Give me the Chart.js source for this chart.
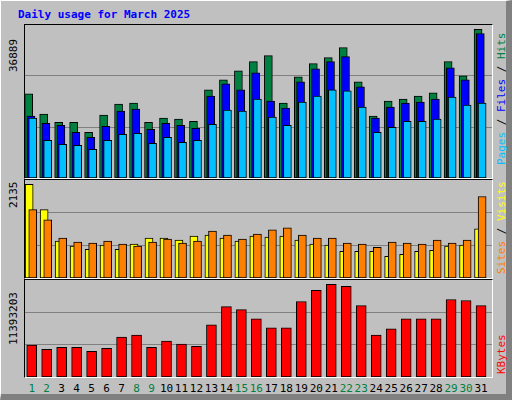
<!DOCTYPE html>
<html><head><meta charset="utf-8">
<script src="https://cdn.jsdelivr.net/npm/chart.js@4"></script>
<style>
body{margin:0;width:512px;height:400px;background:#c0c0c0;overflow:hidden;font-family:"DejaVu Sans Mono",monospace}
#frame{position:absolute;left:0;top:0;border-top:1px solid #fff;border-left:1px solid #fff;border-right:6px solid #808080;border-bottom:6px solid #808080;box-sizing:border-box;width:512px;height:400px}
.panel{position:absolute;border-top:1px solid #000;border-left:1px solid #000;border-right:1px solid #fff;border-bottom:1px solid #fff}
.panel canvas{position:absolute;left:0;top:0}
.t{position:absolute;font-size:11px;white-space:nowrap}
.rot{transform:rotate(-90deg);transform-origin:0 0}
</style></head><body>
<div id="frame"></div>
<div class="t" style="left:18px;top:8px;color:#0000ff;font-weight:bold;font-size:11px">Daily usage for March 2025</div>
<div class="panel" style="left:24px;top:24px;width:467px;height:153px"><canvas id="c1"></canvas></div>
<div class="panel" style="left:24px;top:179px;width:467px;height:98px"><canvas id="c2"></canvas></div>
<div class="panel" style="left:24px;top:279px;width:467px;height:97px"><canvas id="c3"></canvas></div>
<div class="t rot" style="left:7px;top:72px">36889</div>
<div class="t rot" style="left:7px;top:208px">2135</div>
<div class="t rot" style="left:7px;top:345px">11393203</div>
<div class="t rot" style="left:495px;top:165px"><span style="color:#00c0ff">Pages</span> / <span style="color:#0000ff">Files</span> / <span style="color:#008040">Hits</span></div>
<div class="t rot" style="left:495px;top:274px"><span style="color:#ff8000">Sites</span> / <span style="color:#ffff00">Visits</span></div>
<div class="t rot" style="left:495px;top:374px;color:#ff0000">KBytes</div>
<div id="xl"></div>
<script>
const days=[1,2,3,4,5,6,7,8,9,10,11,12,13,14,15,16,17,18,19,20,21,22,23,24,25,26,27,28,29,30,31];
const weekend=[1,2,8,9,15,16,22,23,29,30];
const hits=[20870,15860,13850,13850,11350,15610,18360,18610,13850,14860,14610,14100,21870,24370,26620,28880,30380,18610,25120,28380,29880,32380,23870,15360,19110,19610,20360,21120,28880,25370,36889];
const files=[15360,13600,13100,11350,10100,12850,16610,17110,12100,13600,13100,12350,20360,23370,21870,26120,19110,17360,23870,27120,28880,30130,22620,14860,17610,18610,18860,19610,27370,24370,35890];
const pages=[14860,9350,8350,8100,7090,9350,10850,11100,8600,10100,8850,9350,13350,16860,16610,19610,15110,13100,18860,20360,21870,21620,17610,11350,12600,14100,14100,14610,20110,18110,18610];
const visits=[2135,1557,840,725,655,748,655,771,910,910,863,956,979,910,840,956,933,956,863,771,748,609,609,609,493,540,609,632,725,748,1118];
const sites=[1557,1326,910,817,794,840,771,725,817,886,794,840,1071,979,886,1002,1095,1141,979,910,910,794,771,701,817,794,771,863,794,863,1858];
const kbytes=[3908600,3409600,3659100,3659100,3160200,3534400,4906600,5156000,3659100,4407600,4033400,3783900,6403500,8648800,8274600,7151900,6029200,6029200,9272600,10644700,11393203,11143700,8773600,5156000,5904500,7151900,7151900,7151900,9522000,9397300,8773600];

const XMIN=0.553, XMAX=31.73;
function ds(vals,off,color,w,order){
  return {data:days.map((d,i)=>({x:d+off,y:vals[i]})),backgroundColor:color,borderColor:'#000',borderWidth:1,borderSkipped:false,barThickness:w,order:order};
}
function make(id,w,h,sets,ymax){
  const c=document.getElementById(id);c.width=w;c.height=h;c.style.width=w+'px';c.style.height=h+'px';
  new Chart(c,{type:'bar',data:{datasets:sets},options:{
    responsive:false,animation:false,devicePixelRatio:1,
    layout:{padding:0},
    datasets:{bar:{grouped:false}},
    plugins:{legend:{display:false},tooltip:{enabled:false}},
    scales:{
      x:{type:'linear',min:XMIN,max:XMAX,offset:false,bounds:'ticks',display:false},
      y:{min:0,max:ymax,border:{display:false},ticks:{display:false},
         grid:{color:'#808080',lineWidth:1,drawTicks:false},
         afterBuildTicks:s=>{s.ticks=[{value:ymax/3},{value:2*ymax/3}];},
         afterFit:s=>{s.width=0;}}
    }}});
}
make('c1',467,153,[ds(pages,0.07,'#00c0ff',8,1),ds(files,-0.05,'#0000ff',8,2),ds(hits,-0.2,'#008040',8,3)],37990);
make('c2',467,98,[ds(sites,0.07,'#ff8000',8,1),ds(visits,-0.17,'#ffff00',8,2)],2233);
make('c3',467,97,[ds(kbytes,0,'#ff0000',10,1)],11920000);
const xl=document.getElementById('xl');
days.forEach(d=>{
  const e=document.createElement('div');e.className='t';
  e.textContent=d;
  e.style.color=weekend.includes(d)?'#008040':'#000';
  const cx=24+1+(d-XMIN)/(XMAX-XMIN)*467;
  e.style.left=(cx-20)+'px';e.style.width='40px';e.style.textAlign='center';e.style.top='382px';
  xl.appendChild(e);
});
</script>
</body></html>
